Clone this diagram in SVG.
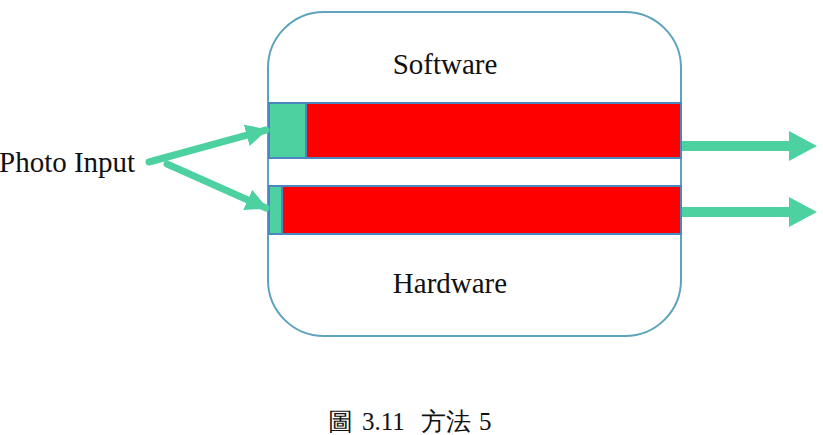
<svg xmlns="http://www.w3.org/2000/svg" width="823" height="435" viewBox="0 0 823 435">
<defs>
<style>
.t{font-family:"Liberation Serif","Times New Roman",serif;fill:#111;}
.bar{stroke:#4a86c0;stroke-width:2;}
.g{fill:#4ed1a1;}
.r{fill:#ff0000;}
.ln{stroke:#4ed1a1;stroke-width:7;stroke-linecap:round;fill:none;}
</style>
<marker id="ah" markerUnits="userSpaceOnUse" markerWidth="24" markerHeight="22" refX="20" refY="11" orient="auto">
<path d="M0,0 L22,11 L0,22 Z" fill="#4ed1a1"/>
</marker>
</defs>
<rect width="823" height="435" fill="#fff"/>
<g id="system">
<rect x="268" y="12" width="413" height="324" rx="56" ry="56" fill="#fff" stroke="#5ea3bd" stroke-width="2"/>
<text class="t" x="445" y="74" font-size="29" text-anchor="middle">Software</text>
<text class="t" x="450" y="293" font-size="29" text-anchor="middle">Hardware</text>
</g>
<g id="bar-software">
<rect class="bar r" x="269" y="103" width="412" height="55"/>
<rect class="bar g" x="269" y="103" width="37" height="55"/>
</g>
<g id="bar-hardware">
<rect class="bar r" x="269" y="186" width="412" height="48"/>
<rect class="bar g" x="269" y="186" width="13" height="48"/>
</g>
<g id="photo-input">
<text class="t" x="-1" y="172" font-size="29">Photo Input</text>
</g>
<g id="connectors">
<line class="ln" x1="149" y1="162" x2="266" y2="130" marker-end="url(#ah)"/>
<line class="ln" x1="167" y1="164" x2="266" y2="208" marker-end="url(#ah)"/>
<path d="M682,141 H789 V131 L817,146 L789,161 V151 H682 Z" fill="#4ed1a1"/>
<path d="M682,207 H789 V197 L817,212 L789,227 V217 H682 Z" fill="#4ed1a1"/>
</g>
<text class="t" y="430" font-size="25" font-family="'Liberation Serif','Noto Sans CJK TC',serif"><tspan x="328">圖</tspan><tspan x="362">3.11</tspan><tspan x="421">方法</tspan><tspan x="479">5</tspan></text>
</svg>
